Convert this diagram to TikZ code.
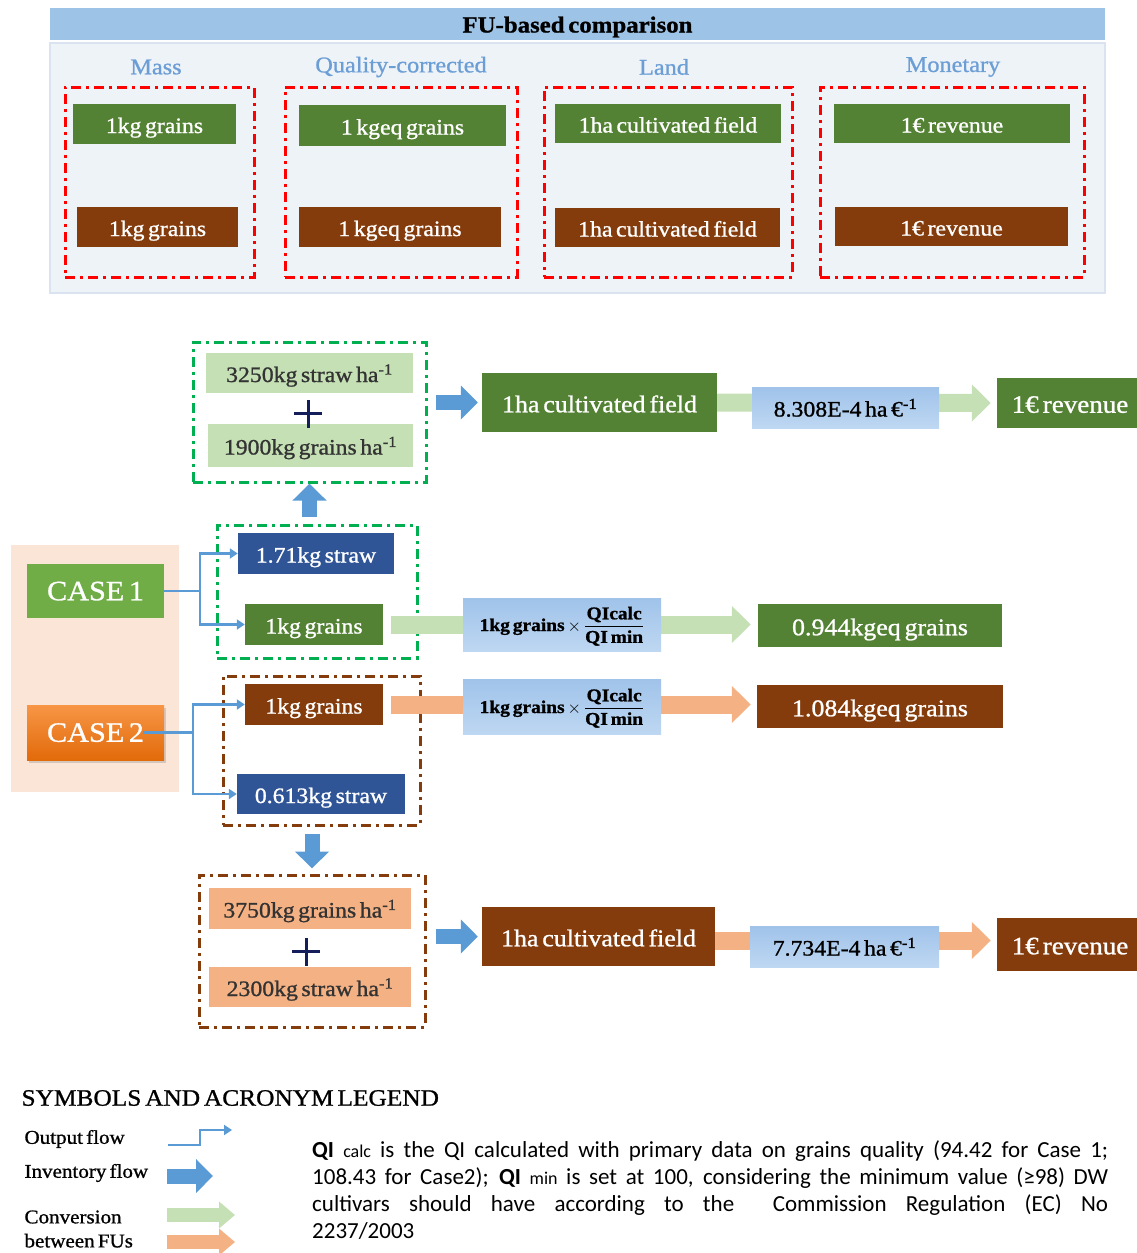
\documentclass[tikz,border=0pt]{standalone}
\usepackage{fontspec}
\setmainfont{Liberation Serif}[FakeStretch=1.08, FakeBold=1, WordSpace=0.6]
\newfontfamily\legfont{Carlito}
\usetikzlibrary{arrows.meta,shadows}

\definecolor{fgreen}{RGB}{84,130,53}
\definecolor{fbrown}{RGB}{132,60,12}
\definecolor{fblue}{RGB}{47,85,151}
\definecolor{lgreen}{RGB}{197,224,180}
\definecolor{lorange}{RGB}{244,177,131}
\definecolor{hdrblue}{RGB}{157,195,230}
\definecolor{panelbg}{RGB}{238,243,248}
\definecolor{panelln}{RGB}{218,228,240}
\definecolor{colblue}{RGB}{108,158,214}
\definecolor{flowblue}{RGB}{91,155,213}
\definecolor{caseone}{RGB}{112,173,71}
\definecolor{casebg}{RGB}{251,229,214}
\definecolor{dashgreen}{RGB}{0,176,80}
\definecolor{qitop}{RGB}{160,195,234}
\definecolor{qibot}{RGB}{190,215,242}
\definecolor{navy}{RGB}{20,30,90}

\newcommand\fs[1]{\fontsize{#1}{#1}\selectfont}
% box from its two corners
\newcommand\fubox[7]{
	\node[#1, minimum width={#5-#3}, minimum height={#6-#4}] (#2) at ({(#3+#5)/2},{(#4+#6)/2}) {#7};
}

\tikzset{
	box/.style={rectangle, inner sep=0pt, text=white, font=\fs{22}, text height=18pt, text depth=0pt},
	big/.style={font=\fs{24}, text height=19.5pt},
	dkgreen/.style={box, fill=fgreen},
	dkbrown/.style={box, fill=fbrown},
	dkblue/.style={box, fill=fblue},
	ltgreen/.style={box, fill=lgreen, text=black!80},
	ltorange/.style={box, fill=lorange, text=black!80},
	qibox/.style={box, top color=qitop, bottom color=qibot, text=black},
	fracbox/.style={qibox, font=\fs{18}\bfseries, text height=22pt, text depth=9pt},
	casebox/.style={box, font=\fs{28}, text height=18.5pt},
	hdr/.style={box, fill=hdrblue, text=black, font=\fs{23}\bfseries, text height=17pt},
	collab/.style={text=colblue, font=\fs{22.5}},
	redframe/.style={rectangle, draw=red, line width=3pt, dash pattern=on 10pt off 5pt on 3pt off 5pt},
	grnframe/.style={redframe, draw=dashgreen},
	brnframe/.style={redframe, draw=fbrown},
	outflow/.style={draw=flowblue, line width=2.5pt, -{Triangle[width=10pt,length=8pt]}},
	invflow/.style={draw=flowblue, line width=15pt, -{Triangle[width=33pt,length=17pt]}},
	convg/.style={draw=lgreen, line width=18pt, -{Triangle[width=36pt,length=19pt]}},
	convo/.style={convg, draw=lorange},
	plusline/.style={draw=navy, line width=3pt},
	legtext/.style={font=\fs{19.5}, anchor=west}
}

\begin{document}
\begin{tikzpicture}[x=1pt,y=-1pt]
	\useasboundingbox (0,0) rectangle (1137,1253);

	% fu-based comparison
	\fill[panelbg, draw=panelln, line width=1.5pt] (50,43) rectangle (1105,293);
	\fubox{hdr}{head}{50}{8}{1105}{40}{FU-based comparison}
	\foreach \x/\t [count=\i] in {156/Mass, 401/Quality-corrected, 664/Land, 953/Monetary} {
		\node[collab] (col\i) at (\x,67) {\t};
	}
	\fubox{redframe}{fmass}{65}{87}{254}{277}{}
	\fubox{redframe}{fqual}{285}{87}{517}{277}{}
	\fubox{redframe}{fland}{544}{87}{792}{277}{}
	\fubox{redframe}{fmon}{820}{87}{1084}{277}{}
	\fubox{dkgreen}{mg}{73}{104}{236}{144}{1kg grains}
	\fubox{dkbrown}{mb}{77}{207}{238}{247}{1kg grains}
	\fubox{dkgreen}{qg}{299}{105}{506}{146}{1 kgeq grains}
	\fubox{dkbrown}{qb}{299}{207}{501}{247}{1 kgeq grains}
	\fubox{dkgreen}{lg}{555}{104}{781}{143}{1ha cultivated field}
	\fubox{dkbrown}{lb}{555}{208}{780}{247}{1ha cultivated field}
	\fubox{dkgreen}{rg}{834}{104}{1070}{143}{1€ revenue}
	\fubox{dkbrown}{rb}{835}{207}{1068}{246}{1€ revenue}

	% cases
	\fill[casebg] (11,545) rectangle (179,792);
	\fubox{casebox, fill=caseone}{c1}{27}{564}{164}{618}{CASE 1}
	\fubox{casebox, top color={rgb,255:red,247;green,150;blue,70}, bottom color={rgb,255:red,226;green,106;blue,10}, drop shadow={opacity=0.3, shadow xshift=2pt, shadow yshift=-3pt}}{c2}{27}{705}{164}{760}{CASE 2}

	% case 1
	\fubox{grnframe}{grpA}{193}{342}{426}{482}{}
	\fubox{ltgreen}{a1}{206}{353}{413}{393}{3250kg straw ha\textsuperscript{-1}}
	\fubox{ltgreen}{a2}{208}{424}{413}{467}{1900kg grains ha\textsuperscript{-1}}
	\draw[plusline] (294,413) -- (322,413) (308,400) -- (308,428);
	\fubox{dkgreen, big}{fieldA}{482}{373}{717}{432}{1ha cultivated field}
	\fubox{dkgreen, big, font=\fs{25}}{revA}{997}{378}{1143}{428}{1€ revenue}
	\draw[convg] (fieldA.east) -- ([xshift=-6pt]revA.west);
	\fubox{qibox}{convA}{752}{387}{939}{428}{8.308E-4 ha €\textsuperscript{-1}}
	\draw[invflow, shorten <=8pt, shorten >=4pt] (grpA.east |- fieldA.west) -- (fieldA.west);

	\fubox{grnframe}{grpB}{217}{525}{417}{658}{}
	\fubox{dkblue}{s1}{238}{533}{394}{574}{1.71kg straw}
	\fubox{dkgreen}{g1}{245}{604}{383}{645}{1kg grains}
	\fubox{dkgreen, big}{eq1}{758}{604}{1002}{647}{0.944kgeq grains}
	\draw[convg, shorten <=8pt, shorten >=7pt] (g1.east) -- (g1.east -| eq1.west);
	\fubox{fracbox}{qi1}{463}{598}{661}{651}{1kg grains $\times$ $\displaystyle\frac{\mbox{\bfseries QIcalc}}{\mbox{\bfseries QI min}}$}
	\draw[invflow, shorten <=7pt] (grpA.south |- grpB.north) -- (grpA.south);
	\draw[outflow] (c1.east) -- ++(36,0) |- (s1.west);
	\draw[outflow] (c1.east) -- ++(36,0) |- (g1.west);

	% case 2
	\fubox{brnframe}{grpC}{223}{676}{420}{825}{}
	\fubox{dkbrown}{g2}{245}{684}{383}{725}{1kg grains}
	\fubox{dkblue}{s2}{237}{774}{405}{814}{0.613kg straw}
	\fubox{dkbrown, big}{eq2}{757}{685}{1003}{728}{1.084kgeq grains}
	\draw[convo, shorten <=8pt, shorten >=6pt] (g2.east) -- (g2.east -| eq2.west);
	\fubox{fracbox}{qi2}{463}{679}{661}{734}{1kg grains $\times$ $\displaystyle\frac{\mbox{\bfseries QIcalc}}{\mbox{\bfseries QI min}}$}
	\draw[outflow] ([xshift=-21pt]c2.east) -- ++(50,0) |- (g2.west);
	\draw[outflow] ([xshift=-21pt]c2.east) -- ++(50,0) |- (s2.west);

	\fubox{brnframe}{grpD}{199}{875}{425}{1027}{}
	\fubox{ltorange}{d1}{209}{888}{411}{929}{3750kg grains ha\textsuperscript{-1}}
	\fubox{ltorange}{d2}{209}{967}{411}{1007}{2300kg straw ha\textsuperscript{-1}}
	\draw[plusline] (292,951) -- (320,951) (306,938) -- (306,966);
	\draw[invflow, shorten <=7pt, shorten >=5pt] (grpD.north |- grpC.south) -- (grpD.north);
	\fubox{dkbrown, big}{fieldD}{482}{907}{715}{966}{1ha cultivated field}
	\fubox{dkbrown, big, font=\fs{25}}{revD}{997}{918}{1143}{971}{1€ revenue}
	\draw[convo, shorten >=6pt] ([yshift=-4pt]fieldD.east) -- ([yshift=-4pt]fieldD.east -| revD.west);
	\fubox{qibox}{convD}{750}{926}{939}{967}{7.734E-4 ha €\textsuperscript{-1}}
	\draw[invflow, shorten <=9pt, shorten >=4pt] (grpD.east |- fieldD.west) -- (fieldD.west);

	% legend
	\node[legtext, font=\fs{23.5}] (legtitle) at (18,1098) {SYMBOLS AND ACRONYM LEGEND};
	\node[legtext] (lout) at (21,1139) {Output flow};
	\node[legtext] (linv) at (21,1173) {Inventory flow};
	\node[legtext, align=left, font=\fontsize{19.5}{24}\selectfont] (lconv) at (21,1229) {Conversion\\between FUs};
	\draw[outflow] (168,1145) -| (200,1130) -- (232,1130);
	\draw[invflow] (167,1176) -- (213,1176);
	\draw[convg, line width=14pt, -{Triangle[width=26pt,length=16pt]}] (167,1215) -- (235,1215);
	\draw[convo, line width=14pt, -{Triangle[width=26pt,length=16pt]}] (167,1242) -- (235,1242);
	\node[anchor=north west, inner sep=0pt, align=left, font=\legfont\fontsize{23}{27}\selectfont] (note) at (312,1140) {%
		\makebox[796pt][s]{\textbf{QI} {\fs{18}calc} is the QI calculated with primary data on grains quality (94.42 for Case 1;}\\
		\makebox[796pt][s]{108.43 for Case2); \textbf{QI} {\fs{18}min} is set at 100, considering the minimum value (≥98) DW}\\
		\makebox[796pt][s]{cultivars should have according to the \ Commission Regulation (EC) No}\\
		2237/2003};
\end{tikzpicture}
\end{document}
